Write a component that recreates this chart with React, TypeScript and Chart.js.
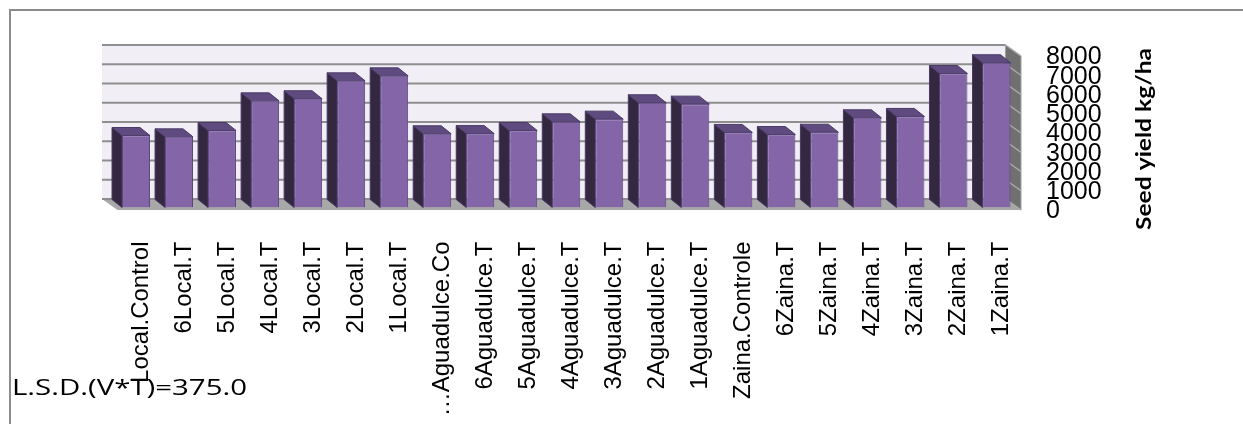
import React, { useEffect, useRef } from 'react';
import { Chart, registerables } from 'chart.js';

Chart.register(...registerables);

// ---- data ----
const categories = [
  'Local.Control', '6Local.T', '5Local.T', '4Local.T', '3Local.T', '2Local.T', '1Local.T',
  '…Aguadulce.Co', '6Aguadulce.T', '5Aguadulce.T', '4Aguadulce.T', '3Aguadulce.T', '2Aguadulce.T', '1Aguadulce.T',
  'Zaina.Controle', '6Zaina.T', '5Zaina.T', '4Zaina.T', '3Zaina.T', '2Zaina.T', '1Zaina.T',
];
const seedYield = [
  3740, 3670, 4000, 5540, 5650, 6580, 6840,
  3830, 3840, 4000, 4450, 4590, 5440, 5370,
  3900, 3790, 3910, 4660, 4730, 6960, 7520,
];
const yTickValues = [0, 1000, 2000, 3000, 4000, 5000, 6000, 7000, 8000];
const axisTitle = 'Seed yield kg/ha';
const lsdNote = 'L.S.D.(V*T)=375.0';

const W = 1243;
const H = 424;

function poly(ctx: CanvasRenderingContext2D, pts: number[][], fill: string, stroke?: string, lw = 1) {
  ctx.beginPath();
  ctx.moveTo(pts[0][0], pts[0][1]);
  for (let i = 1; i < pts.length; i++) ctx.lineTo(pts[i][0], pts[i][1]);
  ctx.closePath();
  ctx.fillStyle = fill;
  ctx.fill();
  if (stroke) {
    ctx.strokeStyle = stroke;
    ctx.lineWidth = lw;
    ctx.stroke();
  }
}

const threeD = {
  id: 'threeD',
  beforeDatasetsDraw(chart: any) {
    const { ctx, chartArea } = chart;
    const { left, right, top, bottom } = chartArea;
    const y = chart.scales.y;
    const B = { x: -12.5, y: -8.5 };
    const F = { x: 3, y: 2.5 };
    ctx.save();
    // back wall
    ctx.fillStyle = '#F1EFF5';
    ctx.fillRect(left + B.x, top + B.y, right - left, bottom - top);
    // floor
    poly(ctx, [
      [left + B.x, bottom + B.y], [right + B.x, bottom + B.y],
      [right + F.x, bottom + F.y], [left + F.x, bottom + F.y],
    ], '#A8A8A8');
    // right side wall
    poly(ctx, [
      [right + B.x, top + B.y], [right + F.x, top + F.y],
      [right + F.x, bottom + F.y], [right + B.x, bottom + B.y],
    ], '#707070', '#A0A0A0', 1);
    // gridlines
    for (const t of y.ticks) {
      const py = y.getPixelForValue(t.value);
      ctx.beginPath();
      ctx.moveTo(left + B.x, py + B.y);
      ctx.lineTo(right + B.x, py + B.y);
      ctx.strokeStyle = '#8E8E8E';
      ctx.lineWidth = 2;
      ctx.stroke();
      ctx.beginPath();
      ctx.moveTo(right + B.x, py + B.y);
      ctx.lineTo(right + F.x, py + F.y);
      ctx.strokeStyle = '#ABABAB';
      ctx.lineWidth = 1.5;
      ctx.stroke();
    }
    // bar side and top faces
    const meta = chart.getDatasetMeta(0);
    const d = { x: -10, y: -8 };
    meta.data.forEach((el: any) => {
      const p = el.getProps(['x', 'y', 'base', 'width'], true);
      const l = p.x - p.width / 2;
      const r = p.x + p.width / 2;
      const ty = p.y;
      const base = p.base;
      poly(ctx, [[l, ty], [l + d.x, ty + d.y], [l + d.x, base + d.y], [l, base]], '#33283F', '#4A3A66', 1);
      poly(ctx, [[l, ty], [l + d.x, ty + d.y], [r + d.x, ty + d.y], [r, ty]], '#5F4B80', '#4A3A66', 1);
    });
    ctx.restore();
  },
  afterDraw(chart: any) {
    const { ctx } = chart;
    ctx.save();
    // outer border
    ctx.beginPath();
    ctx.moveTo(10, H);
    ctx.lineTo(10, 10);
    ctx.lineTo(W, 10);
    ctx.strokeStyle = '#8C8C8C';
    ctx.lineWidth = 2;
    ctx.stroke();

    // axis title (reads bottom to top)
    ctx.save();
    ctx.font = 'bold 20px Lato';
    ctx.fillStyle = '#000';
    ctx.textAlign = 'left';
    ctx.textBaseline = 'alphabetic';
    const tw = ctx.measureText(axisTitle).width;
    ctx.translate(1151, 230);
    ctx.rotate(-Math.PI / 2);
    ctx.scale(182 / tw, 1);
    ctx.fillText(axisTitle, 0, 0);
    ctx.restore();

    // LSD note
    ctx.save();
    ctx.font = '21px "Open Sans"';
    ctx.fillStyle = '#000';
    ctx.textAlign = 'left';
    ctx.textBaseline = 'alphabetic';
    const lw = ctx.measureText(lsdNote).width;
    ctx.translate(12, 395);
    ctx.scale(235 / lw, 1);
    ctx.fillText(lsdNote, 0, 0);
    ctx.restore();

    ctx.restore();
  },
};

export default function App() {
  const ref = useRef<HTMLCanvasElement | null>(null);
  useEffect(() => {
    if (!ref.current) return;
    const chart = new Chart(ref.current, {
      type: 'bar',
      data: {
        labels: categories,
        datasets: [{
          label: axisTitle,
          data: seedYield,
          backgroundColor: '#8466A8',
          borderColor: '#5B4680',
          borderWidth: 1,
          barPercentage: 0.65,
          categoryPercentage: 1,
        }],
      },
      options: {
        responsive: false,
        animation: false,
        layout: { padding: { left: 114.5, top: 53.5, right: 0, bottom: 0 } },
        plugins: { legend: { display: false }, tooltip: { enabled: false } },
        scales: {
          x: {
            grid: { display: false },
            border: { display: false },
            ticks: {
              autoSkip: false,
              maxRotation: 90,
              minRotation: 90,
              padding: 26,
              labelOffset: 5,
              color: '#000',
              font: { family: '"Liberation Sans", Arial', size: 24 },
            },
            afterFit: (s: any) => { s.height = H - 207.5; },
          },
          y: {
            position: 'right',
            min: 0,
            max: 8000,
            grid: { display: false },
            border: { display: false },
            ticks: {
              stepSize: 1000,
              autoSkip: false,
              padding: 20,
              labelOffset: 4,
              color: '#000',
              font: { family: '"Liberation Sans", Arial', size: 25 },
              callback: (v: any) => String(v),
            },
            afterBuildTicks: (s: any) => { s.ticks = yTickValues.map((v) => ({ value: v })); },
            afterFit: (s: any) => { s.width = W - 1018; },
          },
        },
      },
      plugins: [threeD],
    });
    return () => chart.destroy();
  }, []);
  return (
    <div style={{ position: 'fixed', left: 0, top: 0, width: W, height: H, background: '#fff' }}>
      <canvas ref={ref} width={W} height={H} style={{ display: 'block', width: W, height: H }} />
    </div>
  );
}
